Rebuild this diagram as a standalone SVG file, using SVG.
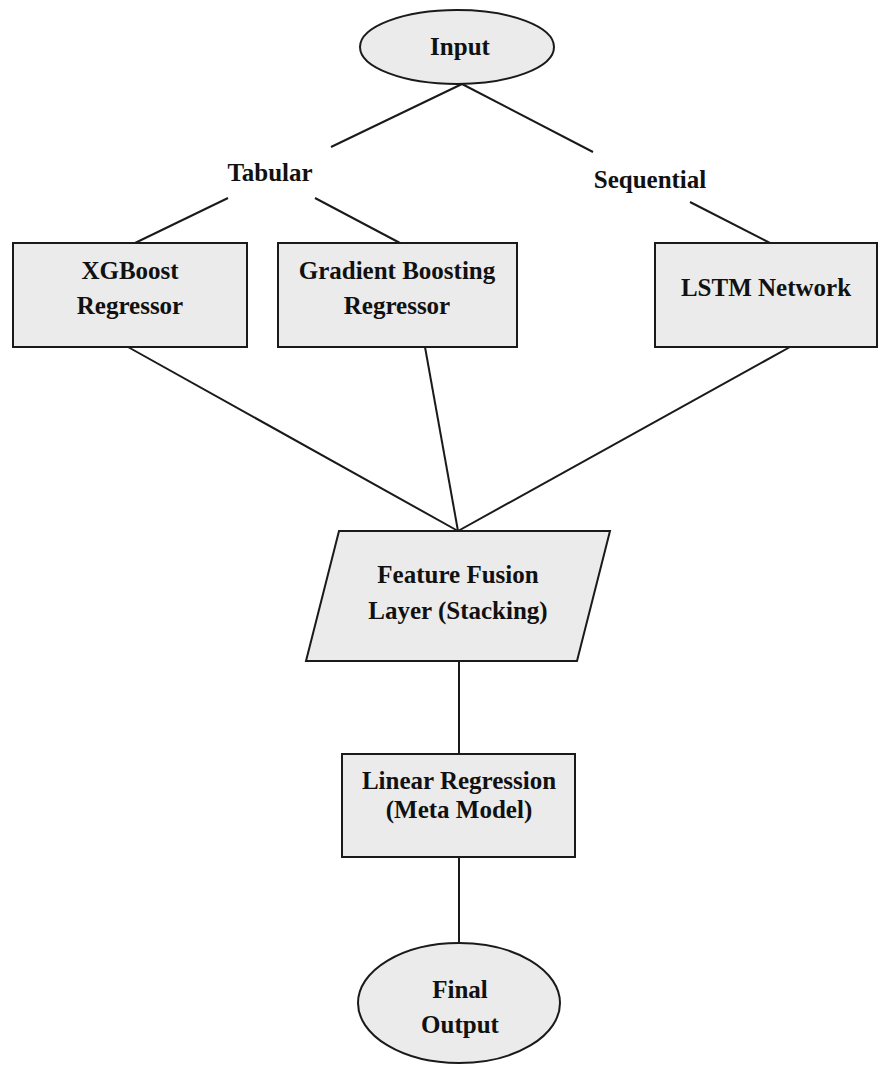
<svg xmlns="http://www.w3.org/2000/svg" width="885" height="1073" viewBox="0 0 885 1073">
<style>
.shape{fill:#ebebeb;stroke:#1a1a1a;stroke-width:2}
.edge{stroke:#1a1a1a;stroke-width:2;fill:none}
.lbl{font-family:"Liberation Serif","Times New Roman",serif;font-weight:bold;font-size:25px;fill:#111;text-anchor:middle}
</style>
<rect width="885" height="1073" fill="#ffffff"/>
<g id="connectors">
<line class="edge" x1="462" y1="84" x2="331" y2="147"/>
<line class="edge" x1="462" y1="84" x2="593" y2="152"/>
<line class="edge" x1="228" y1="198" x2="135" y2="243"/>
<line class="edge" x1="315" y1="198" x2="400" y2="243"/>
<line class="edge" x1="690" y1="202" x2="770" y2="243"/>
<line class="edge" x1="128" y1="347" x2="458" y2="531"/>
<line class="edge" x1="425" y1="347" x2="458" y2="531"/>
<line class="edge" x1="790" y1="347" x2="458" y2="531"/>
<line class="edge" x1="459" y1="661" x2="459" y2="754"/>
<line class="edge" x1="459" y1="857" x2="459" y2="943"/>
</g>
<g id="input">
<ellipse class="shape" cx="457" cy="47" rx="97" ry="37"/>
<text class="lbl" x="460" y="55">Input</text>
</g>
<g id="tabular">
<text class="lbl" x="270" y="181">Tabular</text>
</g>
<g id="sequential">
<text class="lbl" x="650" y="188">Sequential</text>
</g>
<g id="xgboost">
<rect class="shape" x="13" y="243" width="234" height="104"/>
<text class="lbl" x="130" y="279">XGBoost</text>
<text class="lbl" x="130" y="314">Regressor</text>
</g>
<g id="gradient">
<rect class="shape" x="278" y="243" width="239" height="104"/>
<text class="lbl" x="397" y="279">Gradient Boosting</text>
<text class="lbl" x="397" y="314">Regressor</text>
</g>
<g id="lstm">
<rect class="shape" x="655" y="243" width="222" height="104"/>
<text class="lbl" x="766" y="296">LSTM Network</text>
</g>
<g id="fusion">
<polygon class="shape" points="339,531 610,531 577,661 306,661"/>
<text class="lbl" x="458" y="583">Feature Fusion</text>
<text class="lbl" x="458" y="619">Layer (Stacking)</text>
</g>
<g id="meta">
<rect class="shape" x="342" y="754" width="233" height="103"/>
<text class="lbl" x="459" y="789">Linear Regression</text>
<text class="lbl" x="459" y="818">(Meta Model)</text>
</g>
<g id="output">
<ellipse class="shape" cx="459" cy="1003" rx="101" ry="60"/>
<text class="lbl" x="460" y="998">Final</text>
<text class="lbl" x="460" y="1033">Output</text>
</g>
</svg>
